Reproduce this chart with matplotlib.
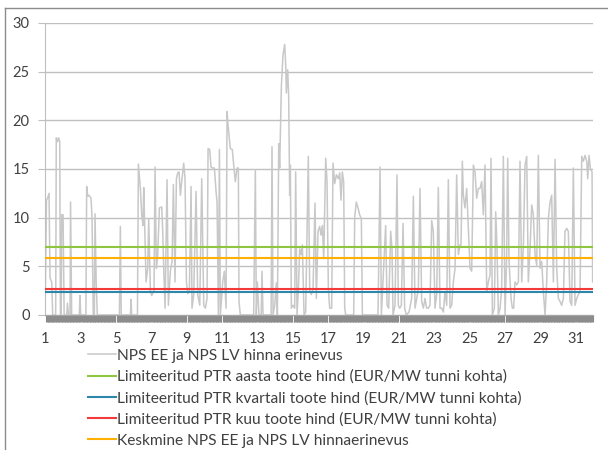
import matplotlib.pyplot as plt
from matplotlib.lines import Line2D

# Hourly NPS EE vs NPS LV price difference (EUR/MWh), hour index from start of month
hours = [
    0, 1.5, 3, 5, 6.3, 8.6, 10, 14, 14.8, 16.5, 18, 19.5, 20.4, 21.5, 22.2, 24, 25.5,
    29, 30, 31.5, 33.5, 34.2, 35.7, 46, 47, 48, 55, 56.1, 57.5, 59, 62, 63.4, 65,
    66.5, 67.4, 69, 70.5, 100.5, 101.8, 103, 115.5, 116.3, 117.2, 125, 126.3, 129,
    130.8, 132.6, 133.5, 134.6, 136.7, 139, 140.3, 142.6, 144.4, 147.5, 148.9, 150.7,
    152.5, 154.8, 158, 159.3, 160.7, 162.5, 165.2, 167, 169.7, 172, 173.8, 176,
    177.9, 179.7, 181.5, 183.3, 185.1, 187.8, 189.6, 191.5, 193.3, 195.5, 197.8,
    199.1, 201.4, 204.6, 206.8, 209.6, 212.3, 215, 217.2, 219.5, 220.9, 223.1,
    224.9, 227.2, 229.5, 231.7, 233.1, 234.9, 236.3, 237.6, 240.8, 243, 245.3,
    246.7, 248, 251.1, 253.8, 255.7, 257.9, 260.2, 262, 262.9, 264.7, 282.8, 285.1,
    286.4, 287.8, 290, 293, 294.1, 295.5, 306.5, 307.7, 309.1, 311.3, 313.6, 315,
    316.8, 318.1, 320.4, 322.6, 324.9, 326.3, 327.2, 329, 330.3, 331.7, 332.6, 334,
    336.2, 338.5, 339.8, 341.7, 343.5, 345.3, 347.1, 348.9, 351.2, 353.4, 357,
    358.9, 361.1, 363.4, 366.1, 367.9, 370.2, 372.4, 374.2, 376.1, 377.9, 380.6,
    382.4, 384.2, 386, 388.7, 390.5, 392.8, 395.1, 397.8, 399.6, 401.4, 403.2, 405,
    406.4, 407.7, 418.6, 420, 422.2, 424.5, 426.7, 429, 430.4, 451.6, 454.4, 456.2,
    462, 463.9, 466.1, 468.8, 470.6, 472, 474.7, 477.4, 479.2, 481.1, 483.3, 485.6,
    487.8, 490.1, 493.7, 497.3, 499.6, 501.9, 504.1, 506.4, 508.6, 510.9, 513.2,
    515.4, 517.7, 520, 522.2, 524.5, 526.7, 529, 531.3, 533.5, 535.8, 538.1, 540.3,
    542.6, 544.9, 547.1, 549.4, 551.6, 553.9, 556.2, 558.4, 560.7, 563, 564.3,
    566.1, 567.5, 569.7, 572, 574.3, 576.5, 578.8, 581.1, 583.3, 585.6, 587.8,
    590.1, 592.4, 594.6, 596.9, 599.2, 601.4, 603.7, 605, 606.9, 609.6, 611.4,
    613.2, 615, 617.3, 619.5, 621.8, 624.1, 626.3, 627.7, 629.5, 632.2, 634, 635.8,
    637.6, 639.9, 642.2, 644.4, 646.7, 649, 651.2, 653.5, 655.7, 658, 660.3, 662.5,
    664.8, 667.1, 669.3, 671.6, 673.8, 676.1, 678.4, 680.6, 682.9, 685.2, 687.4,
    689.7, 692, 694.2, 696.5, 698.7, 701, 703.3, 705.5, 707.8, 710, 712.3, 714.6,
    716.8, 719.1, 721.4, 723.6, 725.9, 728.2, 730.4, 732.7, 735, 736.3, 738.1,
    739.9, 742.2, 743,
]
price_diff = [
    2.5, 11.8, 12.0, 12.5, 3.8, 3.4, 0, 0, 18.2, 17.8, 18.2, 17.8, 0, 0, 10.3, 10.3, 0,
    0, 1.2, 0, 0, 11.6, 0, 0, 2.0, 0, 0, 13.2, 12.2, 12.3, 12.0, 9.9, 0,
    0, 10.4, 3.4, 0, 0, 9.1, 0, 0, 1.6, 0, 0, 15.5, 13.0,
    10.3, 9.2, 13.1, 10.0, 3.4, 4.8, 9.9, 2.4, 2.0, 2.5, 15.2, 4.8,
    6.2, 11.0, 11.1, 8.6, 4.8, 0.7, 13.9, 1.0, 4.5, 5.5, 13.4, 3.4,
    14.0, 14.6, 14.7, 12.3, 13.7, 15.6, 14.0, 3.4, 2.2, 2.4, 13.2,
    0.7, 2.1, 12.7, 2.1, 1.0, 14.0, 1.0, 0.7, 1.7, 17.1, 17.0,
    15.2, 15.1, 15.1, 12.7, 11.6, 0, 17.0, 0, 3.4, 4.5, 0.7,
    20.9, 19.5, 17.1, 17.0, 15.4, 13.7, 15.1, 15.1, 1.4, 0, 0, 14.9,
    0, 3.4, 0, 0, 4.5, 0, 0, 17.3, 0, 1.0, 3.3, 0,
    17.6, 15.1, 23.5, 26.7, 27.8, 25.7, 22.8, 25.2, 22.6, 12.3, 15.4, 0.7,
    1.0, 0.7, 14.7, 0, 2.7, 6.8, 6.2, 7.2, 0, 0.3, 16.3,
    2.4, 2.1, 2.7, 11.5, 1.7, 8.6, 9.1, 8.2, 9.2, 5.8, 16.1,
    13.7, 2.7, 0.7, 0.7, 15.6, 13.5, 14.4, 14.0, 14.6, 11.8, 14.7, 13.7,
    0.7, 0, 0, 10.1, 11.6, 11.0, 10.3, 9.9, 0, 0, 15.2, 0,
    9.2, 1.0, 0.7, 8.6, 6.8, 0, 1.0, 14.4, 1.0, 0.7, 1.0, 9.4,
    0.7, 0, 0.3, 1.7, 12.2, 0.7, 1.7, 2.7, 13.0, 1.4, 0.7,
    1.7, 0.7, 0.7, 1.0, 9.7, 8.6, 0.7, 2.1, 13.1, 0.7, 0.7, 0.3,
    2.4, 1.0, 13.9, 0.7, 1.0, 3.4, 4.8, 14.4, 6.2, 7.2, 7.2,
    15.8, 12.3, 11.0, 13.0, 8.9, 4.8, 4.5, 15.4, 14.7, 12.0, 13.0,
    13.0, 13.7, 10.3, 15.4, 2.4, 3.4, 4.1, 16.1, 0, 0.7, 10.6,
    6.8, 0, 0.7, 2.7, 16.3, 0, 6.2, 16.1, 5.5, 1.7, 0.7, 0.7,
    3.4, 3.1, 3.4, 15.8, 3.4, 7.2, 15.4, 16.3, 3.4, 6.8, 11.3, 10.3,
    6.2, 5.1, 16.4, 4.8, 5.5, 2.4, 0, 3.4, 9.9, 11.6, 12.3,
    3.4, 16.0, 4.8, 1.7, 1.4, 1.0, 1.7, 8.6, 8.9, 8.6, 1.4, 1.0,
    15.1, 1.0, 1.7, 2.1, 2.4, 16.3, 15.8, 16.4, 15.8, 14.0, 16.4,
    15.1, 14.7, 3.4,
]

# Flat reference levels (EUR/MW per hour)
ptr_year = 7.02
ptr_quarter = 2.39
ptr_month = 2.70
avg_diff = 5.89

n_hours = 744
day_labels = [str(d) for d in range(1, 32, 2)]
day_ticks = [(d - 1) * 24 for d in range(1, 32, 2)]

legend_labels = [
    "NPS EE ja NPS LV hinna erinevus",
    "Limiteeritud PTR aasta toote hind (EUR/MW tunni kohta)",
    "Limiteeritud PTR kvartali toote hind (EUR/MW tunni kohta)",
    "Limiteeritud PTR kuu toote hind (EUR/MW tunni kohta)",
    "Keskmine NPS EE ja NPS LV hinnaerinevus",
]
colors = ["#c8c8c8", "#8ec63f", "#2e87a8", "#f23a3a", "#ffb000"]

plt.rcParams["font.family"] = ["Lato", "DejaVu Sans"]
text_color = "#404040"

fig = plt.figure(figsize=(6.08, 4.5), dpi=100)
ax = fig.add_axes([45 / 608, 1 - 315 / 450, 548 / 608, 292 / 450])

ax.plot(hours, price_diff, color=colors[0], lw=1.1, zorder=2)
for level, c in zip([ptr_year, ptr_quarter, ptr_month, avg_diff], colors[1:]):
    ax.hlines(level, 0, n_hours - 1, color=c, lw=1.5, zorder=3)

ax.set_xlim(-0.5, n_hours - 0.5)
ax.set_ylim(0, 30)
ax.set_yticks(range(0, 31, 5))
ax.grid(axis="y", color="#c0c0c0", lw=1.0, zorder=0)

for side in ["top", "right"]:
    ax.spines[side].set_visible(False)
ax.spines["left"].set_color("#bfbfbf")
ax.spines["bottom"].set_color("#a6a6a6")

# every hour gets a tick mark, which merges into a grey band under the axis
ax.set_xticks(day_ticks)
ax.set_xticklabels(day_labels)
ax.set_xticks(range(n_hours), minor=True)
ax.tick_params(axis="x", which="major", length=0, pad=12, labelsize=10.5, labelcolor=text_color)
ax.tick_params(axis="x", which="minor", length=5, width=0.8, color="#8c8c8c")
ax.tick_params(axis="y", length=5, color="#bfbfbf", labelsize=10.5, labelcolor=text_color, pad=6)

handles = [Line2D([], [], color=c, lw=1.5 if i else 1.1) for i, c in enumerate(colors)]
fig.legend(handles, legend_labels, loc="upper left", bbox_to_anchor=(80 / 608, 1 - 341 / 450),
           frameon=False, fontsize=11.2, handlelength=1.8, handletextpad=0.08,
           labelspacing=0.45, borderpad=0, labelcolor=text_color)

# chart frame
fig.add_artist(Line2D([5 / 608, 5 / 608], [0, 1 - 8 / 450], transform=fig.transFigure,
                      color="#8c8c8c", lw=1.0))
fig.add_artist(Line2D([5 / 608, 1], [1 - 8 / 450, 1 - 8 / 450], transform=fig.transFigure,
                      color="#8c8c8c", lw=1.0))

fig.savefig("out.png", dpi=100)
